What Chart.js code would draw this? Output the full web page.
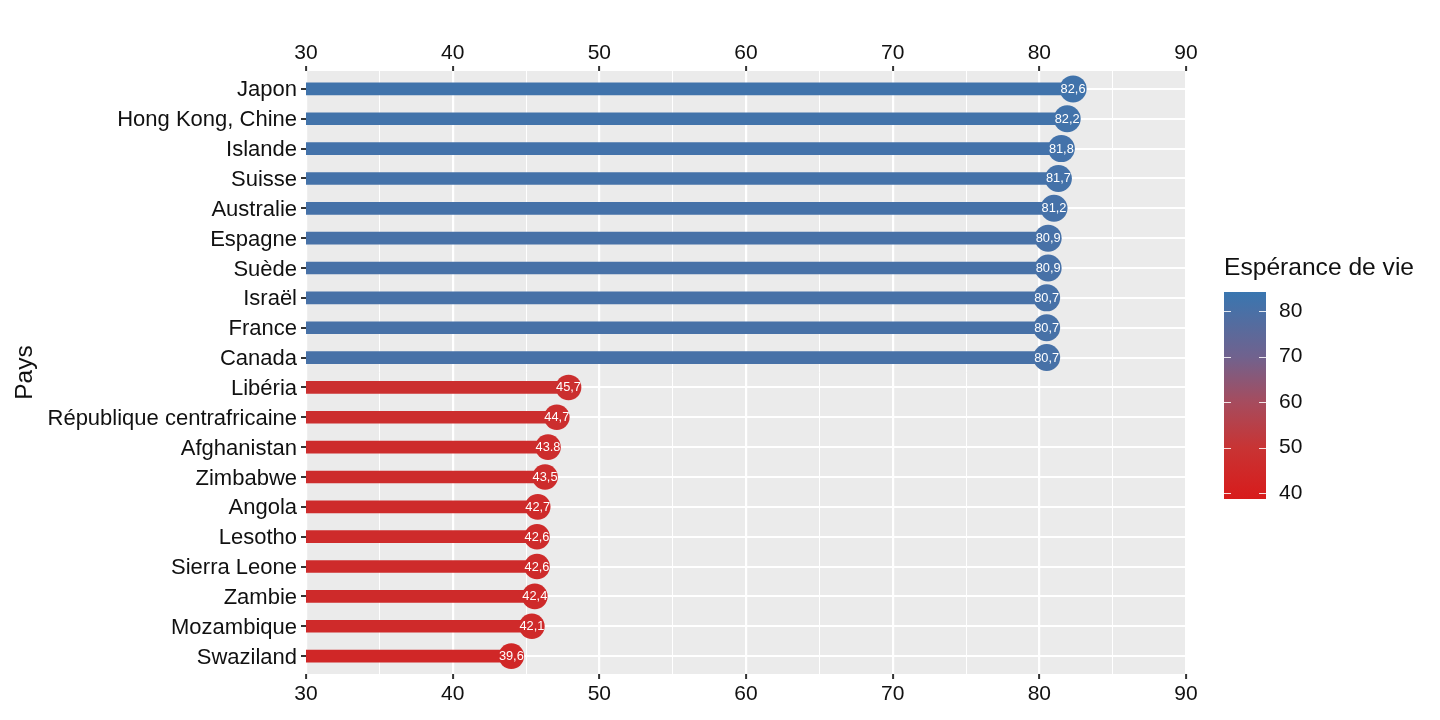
<!DOCTYPE html>
<html>
<head>
<meta charset="utf-8">
<script src="https://cdn.jsdelivr.net/npm/chart.js@4.4.1/dist/chart.umd.min.js"></script>
<style>
html,body{margin:0;padding:0;background:#fff;}
#wrap{width:1440px;height:720px;position:relative;}
</style>
</head>
<body>
<div id="wrap"><canvas id="c"></canvas></div>
<script>
// ---- data ----
const categories = ['Japon', 'Hong Kong, Chine', 'Islande', 'Suisse', 'Australie', 'Espagne', 'Suède', 'Israël', 'France', 'Canada',
  'Libéria', 'République centrafricaine', 'Afghanistan', 'Zimbabwe', 'Angola', 'Lesotho', 'Sierra Leone', 'Zambie', 'Mozambique', 'Swaziland'];
const values = [82.3, 81.9, 81.5, 81.3, 81.0, 80.6, 80.6, 80.5, 80.5, 80.5,
  47.9, 47.1, 46.5, 46.3, 45.8, 45.75, 45.75, 45.6, 45.4, 44.0];
const valueLabels = ['82,6', '82,2', '81,8', '81,7', '81,2', '80,9', '80,9', '80,7', '80,7', '80,7',
  '45,7', '44,7', '43.8', '43,5', '42,7', '42,6', '42,6', '42,4', '42,1', '39,6'];
const xTicks = [30, 35, 40, 45, 50, 55, 60, 65, 70, 75, 80, 85, 90];
const legendTicks = [40, 50, 60, 70, 80];
const legendTitle = 'Espérance de vie';
const yTitle = 'Pays';
const baseValue = 30;

// ---- colour scale ----
const LEG_MIN = 38.7, LEG_MAX = 84.2;
const stops = [
  [38.7, [216, 27, 27]],
  [50, [200, 52, 52]],
  [60, [166, 76, 94]],
  [70, [112, 98, 142]],
  [84.2, [57, 118, 176]]
];
function colorFor(v) {
  if (v <= stops[0][0]) return 'rgb(' + stops[0][1].join(',') + ')';
  for (let i = 1; i < stops.length; i++) {
    if (v <= stops[i][0]) {
      const a = stops[i - 1], b = stops[i];
      const t = (v - a[0]) / (b[0] - a[0]);
      const c = a[1].map((x, k) => Math.round(x + (b[1][k] - x) * t));
      return 'rgb(' + c.join(',') + ')';
    }
  }
  return 'rgb(' + stops[stops.length - 1][1].join(',') + ')';
}
const colors = values.map(colorFor);

const FONT = '"Liberation Sans", Arial, Helvetica, sans-serif';
const TXT = '#111111';

const panelBg = {
  id: 'panelBg',
  beforeDraw(chart) {
    const {ctx, chartArea: a} = chart;
    ctx.save();
    ctx.fillStyle = '#EBEBEB';
    ctx.fillRect(a.left, a.top, a.right - a.left, a.bottom - a.top);
    ctx.restore();
  }
};

const extras = {
  id: 'extras',
  afterDatasetsDraw(chart) {
    const {ctx} = chart;
    const meta = chart.getDatasetMeta(1);
    ctx.save();
    ctx.fillStyle = '#ffffff';
    ctx.font = '12.8px ' + FONT;
    ctx.textAlign = 'center';
    ctx.textBaseline = 'middle';
    meta.data.forEach((pt, i) => {
      ctx.fillText(valueLabels[i], pt.x, pt.y + 0.5);
    });
    ctx.restore();
  },
  afterDraw(chart) {
    const {ctx, chartArea: a} = chart;
    ctx.save();
    // y title
    ctx.fillStyle = TXT;
    ctx.font = '24.5px ' + FONT;
    ctx.textAlign = 'center';
    ctx.textBaseline = 'middle';
    ctx.translate(25, (a.top + a.bottom) / 2);
    ctx.rotate(-Math.PI / 2);
    ctx.fillText(yTitle, 0, 0);
    ctx.restore();

    // colour legend
    const lx = 1224, lw = 42, ly0 = 292, ly1 = 499;
    const yOf = v => ly1 - (v - LEG_MIN) / (LEG_MAX - LEG_MIN) * (ly1 - ly0);
    ctx.save();
    ctx.fillStyle = TXT;
    ctx.font = '24.6px ' + FONT;
    ctx.textAlign = 'left';
    ctx.textBaseline = 'middle';
    ctx.fillText(legendTitle, 1224, 268);
    const g = ctx.createLinearGradient(0, ly1, 0, ly0);
    stops.forEach(s => {
      g.addColorStop((s[0] - LEG_MIN) / (LEG_MAX - LEG_MIN), 'rgb(' + s[1].join(',') + ')');
    });
    ctx.fillStyle = g;
    ctx.fillRect(lx, ly0, lw, ly1 - ly0);
    ctx.strokeStyle = 'rgba(255,255,255,0.85)';
    ctx.lineWidth = 1;
    ctx.font = '21px ' + FONT;
    legendTicks.forEach(v => {
      const y = Math.round(yOf(v)) + 0.5;
      ctx.beginPath();
      ctx.moveTo(lx, y); ctx.lineTo(lx + 7, y);
      ctx.moveTo(lx + lw - 7, y); ctx.lineTo(lx + lw, y);
      ctx.stroke();
      ctx.fillStyle = TXT;
      ctx.fillText(String(v), 1279, yOf(v));
    });
    ctx.restore();
  }
};

function xGrid() {
  return {
    display: true,
    drawOnChartArea: true,
    drawTicks: true,
    offset: false,
    tickLength: 5,
    color: ctx => '#ffffff',
    lineWidth: ctx => (ctx.tick && ctx.tick.value % 10 === 0) ? 2.2 : 1,
    tickColor: ctx => (ctx.tick && ctx.tick.value % 10 === 0) ? '#333333' : 'rgba(0,0,0,0)',
    tickWidth: 2
  };
}
function xTicksOpt(pad) {
  return {
    autoSkip: false,
    maxRotation: 0,
    color: TXT,
    font: {family: FONT, size: 21},
    padding: pad,
    callback: v => (v % 10 === 0 ? String(v) : '')
  };
}
function setXTicks(scale) {
  scale.ticks = xTicks.map(v => ({value: v}));
}

new Chart(document.getElementById('c'), {
  type: 'bar',
  data: {
    labels: categories,
    datasets: [
      {
        type: 'bar',
        data: values.map((v, i) => ({x: [baseValue, v], y: i})),
        backgroundColor: colors,
        borderWidth: 0,
        barThickness: 12,
        xAxisID: 'x',
        yAxisID: 'y',
        order: 2
      },
      {
        type: 'scatter',
        data: values.map((v, i) => ({x: v, y: i})),
        backgroundColor: colors,
        borderColor: colors,
        borderWidth: 0,
        pointRadius: values.map(v => v > 60 ? 13.5 : 12.8),
        pointHoverRadius: values.map(v => v > 60 ? 13.5 : 12.8),
        xAxisID: 'x',
        yAxisID: 'y',
        order: 1
      }
    ]
  },
  options: {
    indexAxis: 'y',
    responsive: true,
    maintainAspectRatio: false,
    animation: false,
    events: [],
    layout: {padding: {left: 0, right: 254, top: 0, bottom: 0}},
    plugins: {legend: {display: false}, tooltip: {enabled: false}},
    scales: {
      x: {
        type: 'linear',
        position: 'bottom',
        offset: false,
        min: 30, max: 90,
        afterBuildTicks: setXTicks,
        afterFit: s => { s.height = 720 - 674; },
        grid: xGrid(),
        border: {display: false},
        ticks: xTicksOpt(3)
      },
      x2: {
        type: 'linear',
        position: 'top',
        offset: false,
        min: 30, max: 90,
        afterBuildTicks: setXTicks,
        afterFit: s => { s.height = 71; },
        grid: Object.assign(xGrid(), {drawOnChartArea: false}),
        border: {display: false},
        ticks: xTicksOpt(0)
      },
      y: {
        type: 'linear',
        position: 'left',
        reverse: true,
        offset: false,
        min: -0.6, max: categories.length - 0.4,
        afterBuildTicks: s => { s.ticks = categories.map((c, i) => ({value: i})); },
        afterFit: s => { s.width = 306; },
        grid: {
          display: true,
          offset: false,
          color: '#ffffff',
          lineWidth: 2,
          drawTicks: true,
          tickLength: 5,
          tickColor: '#333333',
          tickWidth: 2
        },
        border: {display: false},
        ticks: {
          autoSkip: false,
          color: TXT,
          font: {family: FONT, size: 22},
          padding: 4,
          labelOffset: 1.5,
          callback: v => categories[v]
        }
      }
    }
  },
  plugins: [panelBg, extras]
});
</script>
</body>
</html>
